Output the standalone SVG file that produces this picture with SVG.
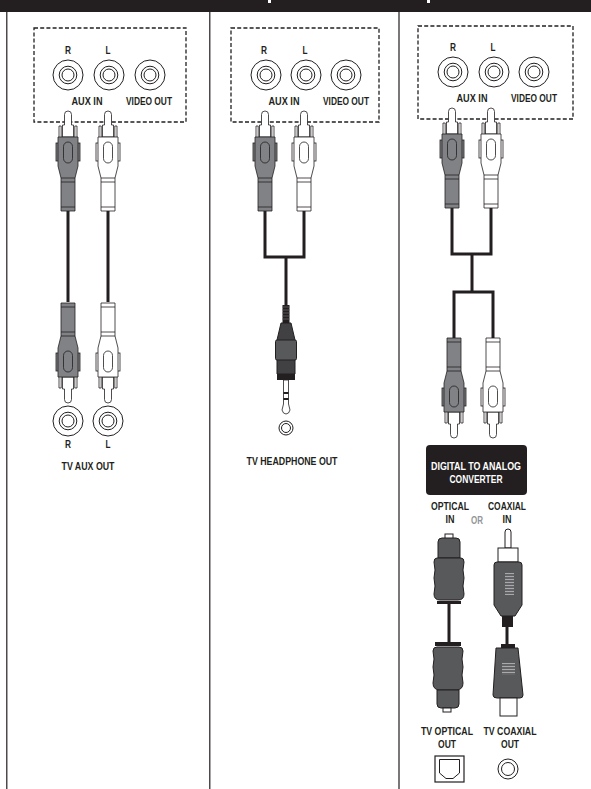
<svg xmlns="http://www.w3.org/2000/svg" width="591" height="789" viewBox="0 0 591 789">
<style>
text{font-family:"Liberation Sans",Arial,sans-serif;font-weight:700;font-size:10px;fill:#231f20;text-anchor:middle}
.cable{stroke:#231f20;fill:none;stroke-width:3}
.dash{stroke:#231f20;fill:none;stroke-width:1.3;stroke-dasharray:4 2.2}
</style>
<defs>
<g id="jack" fill="#fff" stroke="#231f20" stroke-width="1"><circle r="15"/><circle r="8.800"/><circle r="6"/></g>
<g id="plug" stroke="#231f20" stroke-width=".8">
<path fill="#fff" d="M-5.500 26V14H-3.500V3.500a3.500 3.500 0 0 1 7 0V14H5.500V26Z"/>
<path fill="#fff" d="M-9 26V15H-6.800V26M9 26V15H6.800V26"/>
<rect x="-12" y="32" width="2.500" height="18"/><rect x="9.500" y="32" width="2.500" height="18"/>
<path d="M-10 26H10V55L7 67V100H-7V67L-10 55Z"/>
<rect x="-4.500" y="31" width="9" height="21" rx="4.500" fill="none"/>
<path d="M-7 67H7M-7 71H7M-7 96H7" fill="none"/>
</g>
</defs>
<rect width="591" height="789" fill="#fff"/>
<g id="frame">
<rect width="591" height="12" fill="#231f20"/>
<rect x="268" y="0" width="3" height="3" fill="#fff"/>
<rect x="427" y="0" width="3" height="3" fill="#fff"/>
<path d="M6.800 12V789M209.800 12V789M399 12V789" stroke="#231f20" stroke-width="1.200" fill="none"/>
</g>
<g id="connectors">
<path class="cable" d="M68 210V302M108 210V302"/>
<path class="cable" d="M265 211V257M304 211V257M263.500 257H305.500M286 257V306"/>
<path class="cable" d="M452 208V254M491 208V254M450.500 254H492.500M472 254V292M454 292V338M493 292V338M452.500 292H494.500"/>
<path class="cable" d="M449 603V643M507 626V646"/>
</g>
<g id="panel-aux">
<rect class="dash" x="34" y="28" width="152" height="94"/>
<use href="#jack" x="68" y="75"/><use href="#jack" x="109" y="75"/><use href="#jack" x="150" y="75"/>
<text x="68" y="54" textLength="6" lengthAdjust="spacingAndGlyphs">R</text><text x="108" y="54" textLength="5" lengthAdjust="spacingAndGlyphs">L</text>
<text x="87" y="104.500" textLength="31" lengthAdjust="spacingAndGlyphs">AUX IN</text><text x="149" y="104.500" textLength="46" lengthAdjust="spacingAndGlyphs">VIDEO OUT</text>
<use href="#plug" x="68" y="111" fill="#808285"/>
<use href="#plug" x="108" y="111" fill="#fff"/>
<use href="#plug" transform="translate(68 403) scale(1 -1)" fill="#808285"/>
<use href="#plug" transform="translate(108 403) scale(1 -1)" fill="#fff"/>
<use href="#jack" x="68" y="421"/><use href="#jack" x="108" y="421"/>
<text x="68" y="448" textLength="6" lengthAdjust="spacingAndGlyphs">R</text><text x="108" y="448" textLength="5" lengthAdjust="spacingAndGlyphs">L</text>
<text x="88" y="470" textLength="53" lengthAdjust="spacingAndGlyphs">TV AUX OUT</text>
</g>
<g id="panel-headphone">
<rect class="dash" x="231" y="28" width="148" height="94"/>
<use href="#jack" x="266" y="75"/><use href="#jack" x="306" y="75"/><use href="#jack" x="346" y="75"/>
<text x="264" y="54" textLength="6" lengthAdjust="spacingAndGlyphs">R</text><text x="305" y="54" textLength="5" lengthAdjust="spacingAndGlyphs">L</text>
<text x="284" y="104.500" textLength="31" lengthAdjust="spacingAndGlyphs">AUX IN</text><text x="346" y="104.500" textLength="46" lengthAdjust="spacingAndGlyphs">VIDEO OUT</text>
<use href="#plug" x="265" y="111" fill="#808285"/>
<use href="#plug" x="304" y="111" fill="#fff"/>
<path d="M282.500 305H289.500V323H282.500Z" fill="#231f20"/>
<path d="M282 307H290M282 310H290M282 313H290M282 316H290M282 319H290" stroke="#6d6e71" stroke-width=".7" fill="none"/>
<path d="M281 323H291L295 340V374H277V340Z" fill="#414042" stroke="#231f20"/>
<rect x="275.500" y="340" width="21" height="20" rx="1.500" fill="#58595b" stroke="#231f20"/>
<rect x="277" y="374" width="18" height="6" fill="#231f20"/>
<path d="M283.500 380V404L282 410Q283 414 286 414Q289 414 290 410L288.500 404V380Z" fill="#fff" stroke="#231f20" stroke-width=".8"/>
<path d="M283.500 393H288.500M283.500 399H288.500" stroke="#231f20" stroke-width="2" fill="none"/>
<circle cx="286" cy="428" r="7" fill="#fff" stroke="#231f20"/><circle cx="286" cy="428" r="4.500" fill="#fff" stroke="#231f20"/>
<text x="292" y="465" textLength="91" lengthAdjust="spacingAndGlyphs">TV HEADPHONE OUT</text>
</g>
<g id="panel-digital">
<rect class="dash" x="418" y="26" width="155" height="93"/>
<use href="#jack" x="453" y="72"/><use href="#jack" x="494" y="72"/><use href="#jack" x="534" y="72"/>
<text x="453" y="51" textLength="6" lengthAdjust="spacingAndGlyphs">R</text><text x="493" y="51" textLength="5" lengthAdjust="spacingAndGlyphs">L</text>
<text x="472" y="102" textLength="31" lengthAdjust="spacingAndGlyphs">AUX IN</text><text x="534" y="102" textLength="46" lengthAdjust="spacingAndGlyphs">VIDEO OUT</text>
<use href="#plug" x="452" y="108" fill="#808285"/>
<use href="#plug" x="491" y="108" fill="#fff"/>
<use href="#plug" transform="translate(454 438) scale(1 -1)" fill="#808285"/>
<use href="#plug" transform="translate(493 438) scale(1 -1)" fill="#fff"/>
</g>
<g id="converter">
<rect x="426" y="445" width="101" height="50" rx="4" fill="#231f20"/>
<text x="476" y="469.500" style="fill:#fff" textLength="90" lengthAdjust="spacingAndGlyphs">DIGITAL TO ANALOG</text>
<text x="476" y="482.500" style="fill:#fff" textLength="53" lengthAdjust="spacingAndGlyphs">CONVERTER</text>
</g>
<g id="optical-in">
<text x="450" y="509.500" textLength="38" lengthAdjust="spacingAndGlyphs">OPTICAL</text><text x="450" y="522.500" textLength="9" lengthAdjust="spacingAndGlyphs">IN</text>
<rect x="445" y="534" width="8" height="5" fill="#fff" stroke="#231f20"/>
<path d="M438 558V542Q438 538 442 538H456Q460 538 460 542V558Z" fill="#58595b" stroke="#231f20"/>
<path d="M437 558H461Q464 558 464 562L463 570 464 578 463 586 464 594Q464 600 458 600H440Q434 600 434 594L435 586 434 578 435 570 434 562Q434 558 437 558Z" fill="#58595b" stroke="#231f20"/>
<rect x="437" y="601" width="24" height="3" fill="#231f20"/>
</g>
<g id="or-label"><text x="477" y="523.500" style="fill:#939598" textLength="12" lengthAdjust="spacingAndGlyphs">OR</text></g>
<g id="coaxial-in">
<text x="507" y="509.500" textLength="38" lengthAdjust="spacingAndGlyphs">COAXIAL</text><text x="507" y="522.500" textLength="9" lengthAdjust="spacingAndGlyphs">IN</text>
<path d="M505 548V532a3 3 0 0 1 6 0V548Z" fill="#fff" stroke="#231f20"/>
<rect x="498" y="548" width="20" height="14" fill="#fff" stroke="#231f20"/>
<path d="M497 562H519Q522 562 522 565V605L515 616H501L494 605V565Q494 562 497 562Z" fill="#58595b" stroke="#231f20"/>
<rect x="502" y="616" width="11" height="11" fill="#231f20"/>
<rect x="505" y="573" width="9" height="22" fill="#a7a9ac"/>
<path d="M505 575H514M505 578H514M505 581H514M505 584H514M505 587H514M505 590H514M505 593H514" stroke="#231f20" stroke-width="1.200" fill="none"/>
</g>
<g id="optical-out">
<rect x="435" y="642" width="26" height="4" fill="#231f20"/>
<path d="M437 647H459Q463 647 463 651L462 659 463 667 462 675 463 683Q463 690 456 690H440Q433 690 433 683L434 675 433 667 434 659 433 651Q433 647 437 647Z" fill="#58595b" stroke="#231f20"/>
<path d="M437 690H459V704Q459 708 455 708H441Q437 708 437 704Z" fill="#58595b" stroke="#231f20"/>
<rect x="443" y="708" width="8" height="4" fill="#fff" stroke="#231f20"/>
<text x="447" y="734.500" textLength="52" lengthAdjust="spacingAndGlyphs">TV OPTICAL</text><text x="447" y="747.500" textLength="18" lengthAdjust="spacingAndGlyphs">OUT</text>
<rect x="435" y="756" width="29" height="26" fill="#fff" stroke="#231f20" stroke-width="1.200"/>
<path d="M439.500 759.500H459.500V773L453 778.500H446L439.500 773Z" fill="#fff" stroke="#231f20"/>
</g>
<g id="coaxial-out">
<rect x="501" y="644" width="14" height="5" fill="#231f20"/>
<path d="M496 648H518L523 695Q523 698 520 698H497Q493 698 493 695Z" fill="#58595b" stroke="#231f20"/>
<rect x="502" y="663" width="13" height="12" fill="#a7a9ac"/>
<path d="M502 665H515M502 668H515M502 671H515M502 674H515" stroke="#231f20" stroke-width="1.200" fill="none"/>
<rect x="500" y="698" width="17" height="18" fill="#fff" stroke="#231f20"/>
<text x="510" y="734.500" textLength="53" lengthAdjust="spacingAndGlyphs">TV COAXIAL</text><text x="510" y="747.500" textLength="18" lengthAdjust="spacingAndGlyphs">OUT</text>
<circle cx="508" cy="769" r="10" fill="#fff" stroke="#231f20"/><circle cx="508" cy="769" r="6.500" fill="#fff" stroke="#231f20"/>
</g>
</svg>
